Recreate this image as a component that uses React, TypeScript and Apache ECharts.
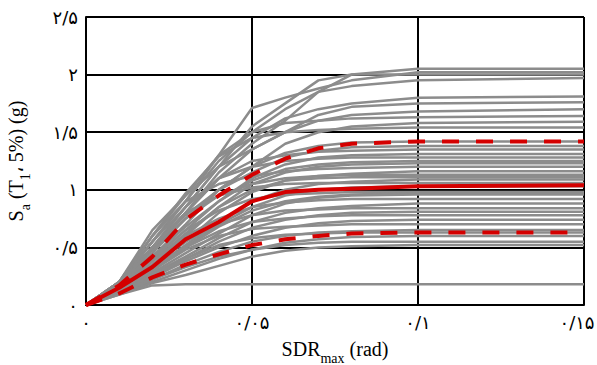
import React, { useEffect, useRef } from "react";
import * as echarts from "echarts";

// Drift points (rad) shared by every IDA curve
const DRIFTS = [0, 0.01, 0.02, 0.03, 0.04, 0.05, 0.06, 0.07, 0.08, 0.1, 0.15];

// Individual IDA curves: Sa (g) at each drift in DRIFTS
const IDA_CURVES: number[][] = [
  [0, 0.2, 0.5, 0.85, 1.2, 1.55, 1.75, 1.95, 2.0, 2.05, 2.05],
  [0, 0.2, 0.55, 0.9, 1.3, 1.71, 1.8, 1.88, 1.95, 2.02, 2.02],
  [0, 0.18, 0.5, 0.8, 1.15, 1.4, 1.6, 1.85, 2.0, 2.0, 2.0],
  [0, 0.2, 0.6, 0.95, 1.3, 1.5, 1.7, 1.85, 1.9, 1.95, 1.97],
  [0, 0.18, 0.5, 0.85, 1.2, 1.45, 1.62, 1.7, 1.75, 1.8, 1.81],
  [0, 0.17, 0.45, 0.8, 1.1, 1.35, 1.5, 1.6, 1.65, 1.68, 1.7],
  [0, 0.2, 0.55, 0.9, 1.25, 1.5, 1.58, 1.6, 1.62, 1.63, 1.64],
  [0, 0.18, 0.48, 0.75, 1.0, 1.2, 1.4, 1.5, 1.55, 1.58, 1.59],
  [0, 0.2, 0.6, 0.97, 1.29, 1.45, 1.5, 1.52, 1.53, 1.54, 1.54],
  [0, 0.2, 0.65, 0.95, 1.2, 1.35, 1.5, 1.65, 1.72, 1.75, 1.76],
  [0, 0.16, 0.42, 0.7, 1.0, 1.2, 1.32, 1.38, 1.41, 1.42, 1.42],
  [0, 0.18, 0.5, 0.78, 1.0, 1.15, 1.28, 1.34, 1.37, 1.38, 1.38],
  [0, 0.17, 0.5, 0.8, 1.1, 1.25, 1.3, 1.33, 1.34, 1.35, 1.35],
  [0, 0.15, 0.4, 0.65, 0.9, 1.1, 1.22, 1.28, 1.3, 1.31, 1.31],
  [0, 0.18, 0.55, 0.85, 1.1, 1.2, 1.25, 1.27, 1.28, 1.28, 1.28],
  [0, 0.16, 0.42, 0.68, 0.9, 1.08, 1.18, 1.22, 1.24, 1.25, 1.25],
  [0, 0.15, 0.35, 0.6, 0.85, 1.05, 1.15, 1.2, 1.22, 1.23, 1.23],
  [0, 0.2, 0.6, 0.9, 1.05, 1.12, 1.16, 1.18, 1.19, 1.2, 1.2],
  [0, 0.14, 0.35, 0.55, 0.8, 0.98, 1.08, 1.12, 1.14, 1.16, 1.16],
  [0, 0.16, 0.45, 0.75, 0.95, 1.05, 1.1, 1.12, 1.13, 1.13, 1.13],
  [0, 0.14, 0.38, 0.62, 0.85, 1.0, 1.08, 1.1, 1.11, 1.11, 1.11],
  [0, 0.13, 0.32, 0.52, 0.72, 0.9, 1.0, 1.05, 1.07, 1.09, 1.09],
  [0, 0.17, 0.5, 0.8, 0.95, 1.02, 1.05, 1.06, 1.06, 1.06, 1.06],
  [0, 0.13, 0.3, 0.5, 0.7, 0.85, 0.95, 1.0, 1.02, 1.03, 1.03],
  [0, 0.15, 0.4, 0.65, 0.82, 0.92, 0.96, 0.97, 0.98, 0.98, 0.98],
  [0, 0.12, 0.3, 0.5, 0.68, 0.82, 0.9, 0.94, 0.96, 0.97, 0.97],
  [0, 0.12, 0.28, 0.45, 0.62, 0.78, 0.88, 0.93, 0.95, 0.96, 0.96],
  [0, 0.15, 0.38, 0.6, 0.75, 0.85, 0.89, 0.91, 0.92, 0.92, 0.92],
  [0, 0.12, 0.27, 0.42, 0.58, 0.72, 0.8, 0.84, 0.86, 0.88, 0.88],
  [0, 0.14, 0.35, 0.55, 0.7, 0.78, 0.82, 0.83, 0.84, 0.84, 0.84],
  [0, 0.11, 0.25, 0.4, 0.55, 0.67, 0.74, 0.78, 0.8, 0.81, 0.81],
  [0, 0.13, 0.32, 0.5, 0.64, 0.72, 0.75, 0.77, 0.78, 0.78, 0.78],
  [0, 0.11, 0.24, 0.38, 0.5, 0.6, 0.67, 0.71, 0.73, 0.74, 0.74],
  [0, 0.12, 0.3, 0.48, 0.6, 0.66, 0.68, 0.69, 0.7, 0.7, 0.7],
  [0, 0.1, 0.22, 0.35, 0.46, 0.55, 0.6, 0.63, 0.64, 0.65, 0.65],
  [0, 0.11, 0.26, 0.4, 0.52, 0.58, 0.61, 0.62, 0.63, 0.63, 0.63],
  [0, 0.1, 0.2, 0.3, 0.4, 0.48, 0.54, 0.57, 0.59, 0.6, 0.6],
  [0, 0.1, 0.22, 0.33, 0.42, 0.48, 0.52, 0.54, 0.55, 0.55, 0.55],
  [0, 0.09, 0.19, 0.26, 0.34, 0.42, 0.47, 0.5, 0.51, 0.52, 0.52],
  [0, 0.09, 0.17, 0.18, 0.18, 0.18, 0.18, 0.18, 0.18, 0.18, 0.18],
];

// Summarised fractiles (Sa in g at each drift in DRIFTS)
const MEDIAN = [0, 0.15, 0.33, 0.57, 0.72, 0.9, 0.98, 1.0, 1.01, 1.03, 1.04];
const P84 = [0, 0.17, 0.42, 0.74, 0.95, 1.13, 1.27, 1.36, 1.4, 1.42, 1.42];
const P16 = [0, 0.1, 0.24, 0.35, 0.44, 0.52, 0.57, 0.6, 0.62, 0.63, 0.63];

// Tick labels (Persian digits)
const X_TICKS = ["۰", "۰/۰۵", "۰/۱", "۰/۱۵"];
const Y_TICKS = ["۰", "۰/۵", "۱", "۱/۵", "۲", "۲/۵"];

const toPairs = (ys: number[]) => ys.map((y, i) => [DRIFTS[i], y]);

export default function App() {
  const ref = useRef<HTMLDivElement>(null);
  useEffect(() => {
    if (!ref.current) return;
    const chart = echarts.init(ref.current, null, { renderer: "svg" });
    const serif = "'Liberation Serif', 'DejaVu Serif', serif";
    const tickFont = "'DejaVu Sans', 'Noto Sans', sans-serif";
    const gray = IDA_CURVES.map((c, i) => ({
      type: "line",
      name: "ida" + i,
      data: toPairs(c),
      symbol: "none",
      lineStyle: { color: "#8c8c8c", width: 2.5 },
      z: 2,
    }));
    const red = (data: number[], dashed: boolean) => ({
      type: "line",
      data: toPairs(data),
      symbol: "none",
      lineStyle: {
        color: "#d40000",
        width: 4,
        type: dashed ? [17, 17] : "solid",
      },
      z: 5,
    });
    const rich = {
      n: { fontSize: 20, fontFamily: serif, color: "#000", lineHeight: 26, verticalAlign: "top" },
      s: { fontSize: 14, fontFamily: serif, color: "#000", lineHeight: 14, verticalAlign: "bottom" },
    };
    chart.setOption({
      animation: false,
      grid: { left: 86, right: 13, top: 17, bottom: 60, outerBoundsMode: "none" },
      xAxis: {
        type: "value",
        min: 0,
        max: 0.15,
        interval: 0.05,
        axisLine: { show: true, lineStyle: { color: "#000", width: 2 } },
        axisTick: { show: false },
        splitLine: { show: true, lineStyle: { color: "#000", width: 2 } },
        axisLabel: {
          margin: 8,
          fontSize: 18,
          color: "#000",
          fontFamily: tickFont,
          formatter: (v: number) => {
            const i = Math.round(v / 0.05);
            const t = X_TICKS[i] ?? "";
            return i === X_TICKS.length - 1 ? "{last|" + t + "}" : t;
          },
          rich: {
            last: { fontSize: 18, fontFamily: tickFont, color: "#000", padding: [0, 14, 0, 0] },
          },
        },
        name: "{n|SDR}{s|max}{n| (rad)}",
        nameLocation: "middle",
        nameGap: 34,
        nameTextStyle: { rich },
      },
      yAxis: {
        type: "value",
        min: 0,
        max: 2.5,
        interval: 0.5,
        axisLine: { show: true, lineStyle: { color: "#000", width: 2 } },
        axisTick: { show: false },
        splitLine: { show: true, lineStyle: { color: "#000", width: 2 } },
        axisLabel: {
          margin: 8,
          fontSize: 18,
          color: "#000",
          fontFamily: tickFont,
          formatter: (v: number) => Y_TICKS[Math.round(v / 0.5)] ?? "",
        },
        name: "{n|S}{s|a}{n| (T}{s|1}{n|، 5%) (g)}",
        nameLocation: "middle",
        nameGap: 54,
        nameRotate: 90,
        nameTextStyle: { rich },
      },
      series: [...gray, red(P16, true), red(P84, true), red(MEDIAN, false)],
    });
    return () => chart.dispose();
  }, []);
  return (
    <div
      ref={ref}
      style={{ position: "fixed", left: 0, top: 0, width: 597, height: 365, background: "#fff" }}
    />
  );
}
